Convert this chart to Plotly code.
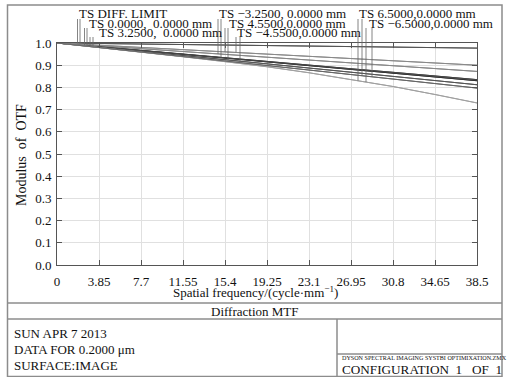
import plotly.graph_objects as go
import numpy as np

# ---------------- data ----------------
freq = [0, 3.85, 7.7, 11.55, 15.4, 19.25, 23.1, 26.95, 30.8, 34.65, 38.5]
x_ticks = [0, 3.85, 7.7, 11.55, 15.4, 19.25, 23.1, 26.95, 30.8, 34.65, 38.5]
x_tick_labels = ["0", "3.85", "7.7", "11.55", "15.4", "19.25", "23.1", "26.95", "30.8", "34.65", "38.5"]
y_ticks = [0.0, 0.1, 0.2, 0.3, 0.4, 0.5, 0.6, 0.7, 0.8, 0.9, 1.0]
y_tick_labels = ["0.0", "0.1", "0.2", "0.3", "0.4", "0.5", "0.6", "0.7", "0.8", "0.9", "1.0"]

diff_T = [1.0, 0.998, 0.995, 0.993, 0.991, 0.988, 0.986, 0.984, 0.982, 0.979, 0.977]
diff_S = [1.0, 0.998, 0.995, 0.993, 0.991, 0.988, 0.986, 0.984, 0.982, 0.979, 0.977]
f0_T = [1.0, 0.983, 0.966, 0.949, 0.932, 0.915, 0.898, 0.881, 0.864, 0.847, 0.830]
f0_S = [1.0, 0.983, 0.966, 0.949, 0.932, 0.915, 0.898, 0.881, 0.864, 0.847, 0.830]
f325_T = [1.0, 0.987, 0.974, 0.961, 0.949, 0.936, 0.923, 0.910, 0.897, 0.885, 0.872]
f325_S = [1.0, 0.983, 0.967, 0.950, 0.934, 0.917, 0.901, 0.884, 0.868, 0.851, 0.835]
fm325_T = [1.0, 0.987, 0.974, 0.961, 0.949, 0.936, 0.923, 0.910, 0.897, 0.885, 0.872]
fm325_S = [1.0, 0.983, 0.967, 0.950, 0.934, 0.917, 0.901, 0.884, 0.868, 0.851, 0.835]
f455_T = [1.0, 0.990, 0.980, 0.970, 0.960, 0.950, 0.940, 0.930, 0.920, 0.910, 0.900]
f455_S = [1.0, 0.981, 0.962, 0.944, 0.925, 0.906, 0.887, 0.868, 0.850, 0.831, 0.812]
fm455_T = [1.0, 0.990, 0.980, 0.970, 0.960, 0.950, 0.940, 0.930, 0.920, 0.910, 0.900]
fm455_S = [1.0, 0.981, 0.962, 0.944, 0.925, 0.906, 0.887, 0.868, 0.850, 0.831, 0.812]
f65_T = [1.0, 0.980, 0.960, 0.938, 0.916, 0.893, 0.866, 0.836, 0.804, 0.768, 0.730]
f65_S = [1.0, 0.980, 0.960, 0.940, 0.920, 0.899, 0.879, 0.859, 0.838, 0.818, 0.797]
fm65_T = [1.0, 0.980, 0.960, 0.938, 0.916, 0.893, 0.866, 0.836, 0.804, 0.768, 0.730]
fm65_S = [1.0, 0.980, 0.960, 0.940, 0.920, 0.899, 0.879, 0.859, 0.838, 0.818, 0.797]

series_labels = ["TS DIFF. LIMIT", "TS 0.0000,  0.0000 mm", "TS 3.2500,  0.0000 mm",
                 "TS \u22123.2500, 0.0000 mm", "TS 4.5500,0.0000 mm", "TS \u22124.5500,0.0000 mm",
                 "TS 6.5000,0.0000 mm", "TS \u22126.5000,0.0000 mm"]
series_T = [diff_T, f0_T, f325_T, fm325_T, f455_T, fm455_T, f65_T, fm65_T]
series_S = [diff_S, f0_S, f325_S, fm325_S, f455_S, fm455_S, f65_S, fm65_S]

# ---------------- styling / layout ----------------
W, H = 516, 377
L, R, T, B = 57, 477, 43, 265
XMAX = 38.5

def px(x):
    return (x - L) / (R - L)

def py(y):
    return (B - y) / (B - T)

FONT = "Liberation Serif, Times New Roman, serif"
col_T = ["#555555", "#333333", "#888888", "#888888", "#8a8a8a", "#8a8a8a", "#a0a0a0", "#a0a0a0"]
col_S = ["#555555", "#333333", "#444444", "#444444", "#555555", "#555555", "#666666", "#666666"]

# label placement (pixel) and leader line x (pixel) for T and S
label_pos = [(77, 13), (87, 23), (97, 32), (217, 13), (227, 23), (235, 32), (357, 13), (367, 23)]
leader_px = [(77.5, 80), (84.5, 87), (90, 93), (218, 221), (225, 228), (236, 240), (358, 362), (366, 372)]
leader_top = [19, 28, 37, 19, 28, 37, 19, 28]

fig = go.Figure()
for i in range(len(series_labels)):
    fig.add_trace(go.Scatter(x=freq, y=series_T[i], mode="lines",
                             line=dict(color=col_T[i], width=1), showlegend=False, hoverinfo="skip"))
    fig.add_trace(go.Scatter(x=freq, y=series_S[i], mode="lines",
                             line=dict(color=col_S[i], width=1), showlegend=False, hoverinfo="skip"))

shapes = []
annotations = []
line_gray = dict(color="#8c8c8c", width=1.5)

# outer frame and boxes
shapes.append(dict(type="rect", xref="paper", yref="paper", x0=px(7.5), x1=px(502), y0=py(376.5), y1=py(5),
                   line=line_gray, layer="below"))
shapes.append(dict(type="line", xref="paper", yref="paper", x0=px(7.5), x1=px(502), y0=py(303), y1=py(303), line=line_gray))
shapes.append(dict(type="line", xref="paper", yref="paper", x0=px(7.5), x1=px(502), y0=py(319), y1=py(319), line=line_gray))
shapes.append(dict(type="line", xref="paper", yref="paper", x0=px(337), x1=px(337), y0=py(319), y1=py(376.5), line=line_gray))
shapes.append(dict(type="line", xref="paper", yref="paper", x0=px(337), x1=px(502), y0=py(354), y1=py(354), line=line_gray))

# labels and leader lines
for i, lab in enumerate(series_labels):
    lx, ly = label_pos[i]
    annotations.append(dict(text=lab, xref="paper", yref="paper", x=px(lx), y=py(ly),
                            xanchor="left", yanchor="middle", showarrow=False,
                            font=dict(family=FONT, size=13, color="#111111")))
    for k, ser in enumerate((series_T[i], series_S[i])):
        xd = (leader_px[i][k] - L) / (R - L) * XMAX
        yv = float(np.interp(xd, freq, ser))
        shapes.append(dict(type="line", xref="paper", yref="paper",
                           x0=xd / XMAX, x1=xd / XMAX, y0=py(leader_top[i]), y1=yv,
                           line=dict(color="#666666", width=0.8)))

# texts
annotations += [
    dict(text="Spatial frequency/(cycle\u00b7mm<sup>\u22121</sup>)", x=px(255), y=py(292)),
    dict(text="Diffraction MTF", x=px(255), y=py(311)),
]
for a in annotations[-2:]:
    a.update(xref="paper", yref="paper", xanchor="center", yanchor="middle", showarrow=False,
             font=dict(family=FONT, size=13, color="#111111"))
annotations.append(dict(text="Modulus  of  OTF", x=px(21), y=py(155), xref="paper", yref="paper",
                        textangle=-90, xanchor="center", yanchor="middle", showarrow=False,
                        font=dict(family=FONT, size=14, color="#111111")))
for txt, yy in (("SUN APR 7 2013", 333), ("DATA FOR 0.2000 \u03bcm", 349), ("SURFACE:IMAGE", 365)):
    annotations.append(dict(text=txt, x=px(12), y=py(yy), xref="paper", yref="paper",
                            xanchor="left", yanchor="middle", showarrow=False,
                            font=dict(family=FONT, size=13, color="#111111")))
annotations.append(dict(text="DYSON SPECTRAL IMAGING SYSTBI OPTIMIXATION.ZMX", x=px(339.5), y=py(358),
                        xref="paper", yref="paper", xanchor="left", yanchor="middle", showarrow=False,
                        font=dict(family=FONT, size=6.1, color="#111111")))
annotations.append(dict(text="CONFIGURATION  1   OF  1", x=px(340), y=py(369),
                        xref="paper", yref="paper", xanchor="left", yanchor="middle", showarrow=False,
                        font=dict(family=FONT, size=13.2, color="#111111")))

axis_common = dict(showline=True, linecolor="#555555", linewidth=1, mirror="ticks",
                   ticks="inside", ticklen=5, tickcolor="#555555", tickwidth=1,
                   showgrid=True, gridcolor="#e0e0e0", gridwidth=1, zeroline=False,
                   tickfont=dict(family=FONT, size=13, color="#111111"))

fig.update_layout(
    width=W, height=H,
    margin=dict(l=L, r=W - R, t=T, b=H - B),
    paper_bgcolor="white", plot_bgcolor="white",
    xaxis=dict(range=[0, XMAX], tickvals=x_ticks, ticktext=x_tick_labels, ticklabelstandoff=4, **axis_common),
    yaxis=dict(range=[0, 1], tickvals=y_ticks, ticktext=y_tick_labels, ticklabelstandoff=2, **axis_common),
    shapes=shapes, annotations=annotations,
)

fig.write_html("out.html", config={"displayModeBar": False},
               post_script="document.body.style.margin='0';document.body.style.overflow='hidden';")
